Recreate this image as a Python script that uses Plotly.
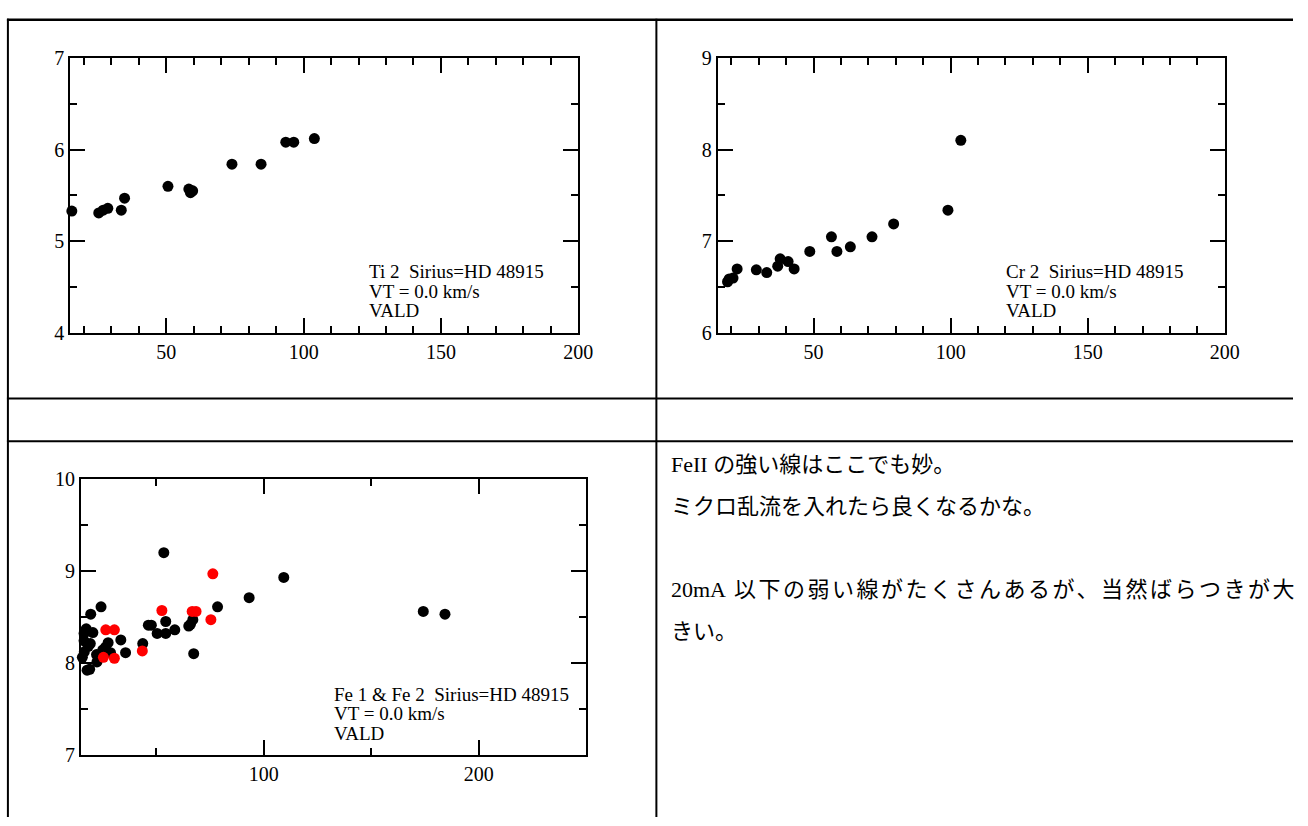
import plotly.graph_objects as go

W, H = 1308, 826

# ---- data: equivalent width (mA) vs. derived abundance ----
ti_ew = [15.6, 25.4, 27.0, 28.7, 33.6, 34.8, 50.6, 58.2, 58.8, 59.6, 73.9, 84.5, 93.5, 96.4, 103.9]
ti_abund = [5.33, 5.31, 5.34, 5.36, 5.34, 5.47, 5.60, 5.57, 5.53, 5.55, 5.84, 5.84, 6.08, 6.08, 6.12]

cr_ew = [18.6, 19.2, 20.6, 22.1, 29.1, 32.9, 36.9, 37.8, 40.7, 42.9, 48.6, 56.5, 58.5, 63.4, 71.3,
         79.2, 99.0, 103.7]
cr_abund = [6.56, 6.59, 6.60, 6.70, 6.69, 6.66, 6.73, 6.81, 6.78, 6.70, 6.89, 7.05, 6.89, 6.94, 7.05,
            7.19, 7.34, 8.10]

fe1_ew = [53.5, 93.2, 78.5, 24.3, 19.5, 54.4, 46.3, 47.7, 58.6, 50.4, 54.4, 67.0, 65.9, 65.1, 43.7,
          33.5, 35.7, 67.4, 27.6, 26.4, 25.1, 28.7, 22.2, 22.4, 20.5, 17.4, 16.4, 16.4, 19.3, 18.4,
          16.5, 15.6, 17.8, 19.0, 109.3, 174.2, 184.3]
fe1_abund = [9.20, 8.71, 8.61, 8.61, 8.53, 8.45, 8.41, 8.41, 8.36, 8.32, 8.32, 8.47, 8.42, 8.40, 8.21,
             8.25, 8.11, 8.10, 8.22, 8.17, 8.14, 8.11, 8.09, 8.01, 8.33, 8.37, 8.32, 8.24, 8.21, 8.18,
             8.12, 8.06, 7.92, 7.93, 8.93, 8.56, 8.53]

fe2_ew = [76.3, 52.6, 66.7, 68.5, 75.4, 26.5, 30.5, 43.5, 25.4, 30.5]
fe2_abund = [8.97, 8.57, 8.56, 8.56, 8.47, 8.36, 8.36, 8.13, 8.06, 8.05]

panel_labels = {
    "ti": ["Ti 2  Sirius=HD 48915", "VT = 0.0 km/s", "VALD"],
    "cr": ["Cr 2  Sirius=HD 48915", "VT = 0.0 km/s", "VALD"],
    "fe": ["Fe 1 & Fe 2  Sirius=HD 48915", "VT = 0.0 km/s", "VALD"],
}

# note lines; the third one is justified to the cell width (head, spread part)
notes = [
    ("FeII の強い線はここでも妙。", ""),
    ("ミクロ乱流を入れたら良くなるかな。", ""),
    ("20mA", " 以下の弱い線がたくさんあるが、当然ばらつきが大"),
    ("きい。", ""),
]
note_spread = 2.5

SERIF = "Liberation Serif, Times New Roman, serif"
JP = "Liberation Serif, Noto Sans CJK JP, sans-serif"


def fx(p):
    return p / W


def fy(p):
    return 1 - p / H


fig = go.Figure()

def dots(x, y, color, xa, ya):
    fig.add_trace(go.Scatter(
        x=x, y=y, mode="markers", xaxis=xa, yaxis=ya,
        marker=dict(size=11, color=color, line=dict(width=0)),
        cliponaxis=False, showlegend=False, hoverinfo="skip",
    ))

dots(ti_ew, ti_abund, "black", "x", "y")
dots(cr_ew, cr_abund, "black", "x2", "y2")
dots(fe1_ew, fe1_abund, "black", "x3", "y3")
dots(fe2_ew, fe2_abund, "#ff0000", "x3", "y3")


def xaxis(left, right, rng, dtick, minor_dtick, anchor):
    return dict(
        domain=[fx(left), fx(right)], range=rng, anchor=anchor,
        showline=True, linecolor="black", linewidth=2, mirror="allticks",
        ticks="inside", ticklen=15, tickwidth=2, tickcolor="black",
        tick0=0, dtick=dtick,
        minor=dict(ticks="inside", ticklen=7, tickwidth=2, tickcolor="black",
                   tick0=0, dtick=minor_dtick, showgrid=False),
        showgrid=False, zeroline=False, fixedrange=True,
        tickfont=dict(family=SERIF, size=20, color="black"),
    )


def yaxis(top, bottom, rng, anchor):
    return dict(
        domain=[fy(bottom), fy(top)], range=rng, anchor=anchor,
        showline=True, linecolor="black", linewidth=2, mirror="allticks",
        ticks="inside", ticklen=15, tickwidth=2, tickcolor="black",
        tick0=0, dtick=1,
        minor=dict(ticks="inside", ticklen=7, tickwidth=2, tickcolor="black",
                   tick0=0, dtick=0.5, showgrid=False),
        showgrid=False, zeroline=False, fixedrange=True,
        tickfont=dict(family=SERIF, size=20, color="black"),
    )


annotations = []

def label_block(lines, left, top):
    for i, t in enumerate(lines):
        annotations.append(dict(
            text=t, x=fx(left), y=fy(top + 20 * i), xref="paper", yref="paper",
            xanchor="left", yanchor="middle", showarrow=False, borderpad=0,
            font=dict(family=SERIF, size=19, color="black"),
        ))

label_block(panel_labels["ti"], 372, 268)
label_block(panel_labels["cr"], 1017, 268)
label_block(panel_labels["fe"], 337, 702)

for (head, spread), yy in zip(notes, [466, 509, 594, 637]):
    txt = head
    if spread:
        txt += f'<span style="letter-spacing:{note_spread}px">{spread}</span>'
    annotations.append(dict(
        text=txt, x=fx(678), y=fy(yy), xref="paper", yref="paper",
        xanchor="left", yanchor="middle", showarrow=False, borderpad=0,
        font=dict(family=JP, size=22, color="black"),
    ))

# table rules around the panels
shapes = []

def hline(y, x0, x1, w=2):
    shapes.append(dict(type="line", xref="paper", yref="paper",
                       x0=fx(x0), x1=fx(x1), y0=fy(y), y1=fy(y),
                       line=dict(color="black", width=w)))

def vline(x, y0, y1, w=2):
    shapes.append(dict(type="line", xref="paper", yref="paper",
                       x0=fx(x), x1=fx(x), y0=fy(y0), y1=fy(y1),
                       line=dict(color="black", width=w)))

hline(9, 7, W, 2.5)
hline(398, 7, W, 2)
hline(442, 7, W, 2)
vline(8, 8, H + 2, 2)
vline(664, 8, H + 2, 2)

fig.update_layout(
    width=W, height=H, autosize=False,
    margin=dict(l=0, r=0, t=0, b=0),
    paper_bgcolor="white", plot_bgcolor="white",
    xaxis=xaxis(71, 585, [15, 200], 50, 10, "y"),
    yaxis=yaxis(48, 331, [4, 7], "x"),
    xaxis2=xaxis(726, 1239, [15, 200], 50, 10, "y2"),
    yaxis2=yaxis(48, 331, [6, 9], "x2"),
    xaxis3=xaxis(82, 593, [15, 250], 100, 50, "y3"),
    yaxis3=yaxis(481, 764, [7, 10], "x3"),
    annotations=annotations,
    shapes=shapes,
    showlegend=False,
)

fig.write_html("out.html", config={"displayModeBar": False})
